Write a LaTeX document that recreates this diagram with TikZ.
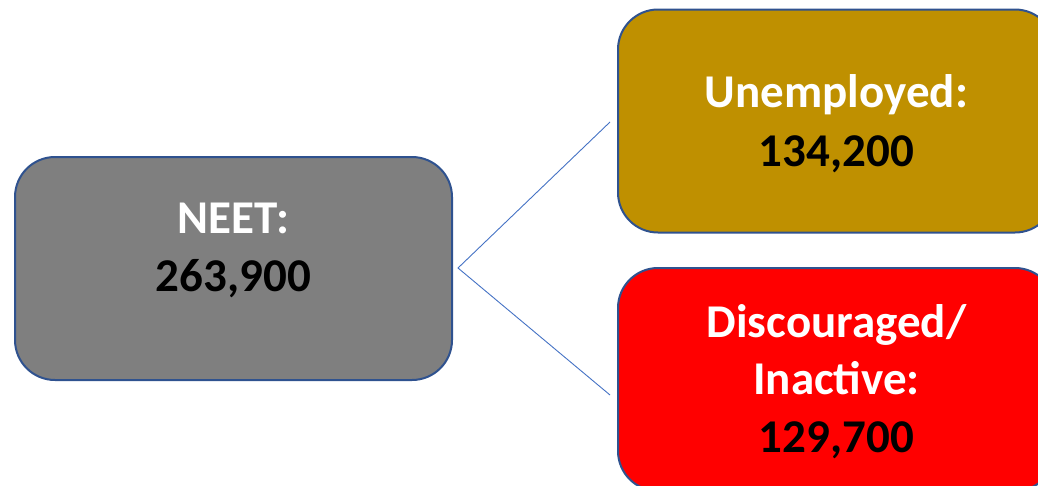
\documentclass[tikz,border=0pt]{standalone}
\usepackage{fontspec}
\setmainfont{Carlito}
\definecolor{neetgray}{HTML}{7F7F7F}
\definecolor{unempgold}{HTML}{BF9000}
\definecolor{discred}{HTML}{FF0000}
\definecolor{boxborder}{HTML}{2F528F}
\definecolor{linkblue}{HTML}{4472C4}
\tikzset{
  card/.style={draw=boxborder, line width=2pt, rounded corners=40pt, minimum width=437pt, minimum height=223pt, inner sep=0pt},
  lbl/.style={anchor=base, inner sep=0pt, font=\fontsize{47}{58}\selectfont\bfseries},
  link/.style={draw=linkblue, line width=0.9pt}
}
\begin{document}
\begin{tikzpicture}[x=1pt,y=1pt]
\useasboundingbox (0,0) rectangle (1038,-485);
\clip (0,0) rectangle (1038,-485);
\node[card, fill=neetgray] (neet) at (233.5,-268.5) {};
\node[card, fill=unempgold] (unemp) at (836.5,-121) {};
\node[card, fill=discred] (disc) at (836.5,-379.5) {};
\node[lbl, text=white] (neetA) at (233.5,-233) {NEET:};
\node[lbl, text=black] (neetB) at (233.5,-291) {263,900};
\node[lbl, text=white] (unA) at (836.5,-107) {Unemployed:};
\node[lbl, text=black] (unB) at (836.5,-166) {134,200};
\node[lbl, text=white] (diA) at (836.5,-337) {Discouraged/};
\node[lbl, text=white] (diB) at (836.5,-394) {Inactive:};
\node[lbl, text=black] (diC) at (836.5,-452) {129,700};
\coordinate (apex) at (458,-268);
\coordinate (upend) at (610,-122);
\coordinate (loend) at (610,-395);
\draw[link] (upend) -- (apex) -- (loend);
\end{tikzpicture}
\end{document}
